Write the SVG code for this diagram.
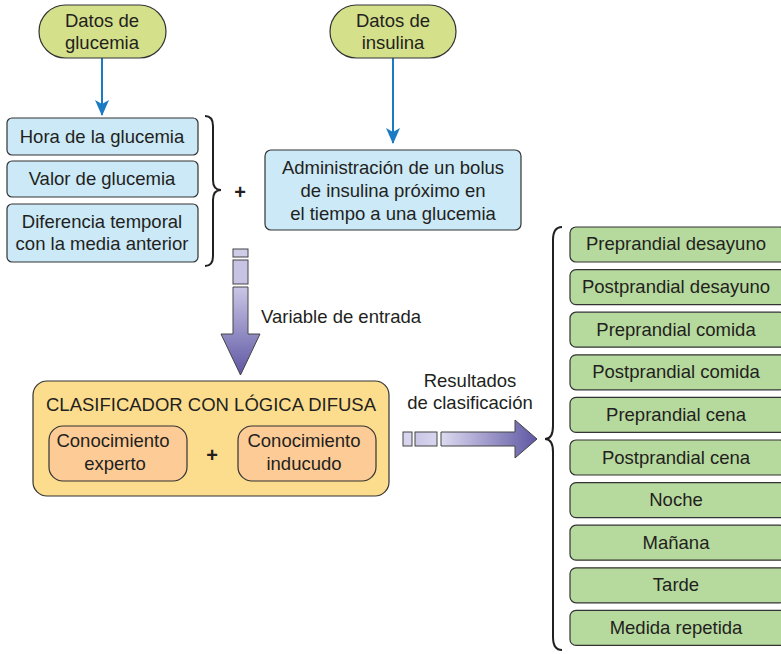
<svg xmlns="http://www.w3.org/2000/svg" width="781" height="654" viewBox="0 0 781 654">
<defs>
<style>
text{font-family:"Liberation Sans",Arial,sans-serif;font-size:18.5px;fill:#231f20;text-anchor:middle}
.pill{fill:#d5e08a;stroke:#333;stroke-width:1.2}
.blue{fill:#cbe9f7;stroke:#333;stroke-width:1.2}
.green{fill:#b6d99d;stroke:#333;stroke-width:1.2}
.peach{fill:#fdcb95;stroke:#333;stroke-width:1.2}
.brace{fill:none;stroke:#231f20;stroke-width:2}
.conn{stroke:#1b7bc2;stroke-width:2;fill:none}
.seg{stroke:#444;stroke-width:1}
.plus{font-weight:bold;font-size:20px}
</style>
<marker id="ah" markerWidth="16" markerHeight="14" refX="15" refY="7" orient="auto" markerUnits="userSpaceOnUse" viewBox="0 0 16 14">
<path d="M0,0 L16,7 L0,14 L4,7 Z" fill="#1b7bc2"/>
</marker>
<linearGradient id="gv" x1="0" y1="0" x2="0" y2="1"><stop offset="0" stop-color="#c9c6e6"/><stop offset="1" stop-color="#5f57a3"/></linearGradient>
<linearGradient id="gh" x1="0" y1="0" x2="1" y2="0"><stop offset="0" stop-color="#dcdaf0"/><stop offset="1" stop-color="#5f57a3"/></linearGradient>
<linearGradient id="gh2" x1="0" y1="0" x2="1" y2="0"><stop offset="0" stop-color="#c9c6e6"/><stop offset="1" stop-color="#d8d6ee"/></linearGradient>
</defs>

<g id="connectors">
<line class="conn" x1="102" y1="58" x2="102" y2="115" marker-end="url(#ah)"/>
<line class="conn" x1="393" y1="58" x2="393" y2="143" marker-end="url(#ah)"/>
<rect class="seg" x="233" y="249" width="15" height="8" fill="#cfcce8"/>
<rect class="seg" x="233" y="260" width="15" height="24" fill="#c6c3e4"/>
<path class="seg" d="M233,287 L248,287 L248,334 L260,334 L240.5,375 L221,334 L233,334 Z" fill="url(#gv)"/>
<text x="261" y="323" style="text-anchor:start">Variable de entrada</text>
<rect class="seg" x="403" y="432" width="9" height="14" fill="#d8d6ee"/>
<rect class="seg" x="415" y="432" width="22" height="14" fill="url(#gh2)"/>
<path class="seg" d="M441,432 L515,432 L515,420 L537,439 L515,458 L515,446 L441,446 Z" fill="url(#gh)"/>
<text x="470" y="387">Resultados</text>
<text x="470" y="409">de clasificación</text>
</g>

<g id="datos-glucemia">
<rect class="pill" x="39" y="5" width="127" height="53" rx="26.5"/>
<text x="102" y="27">Datos de</text>
<text x="102" y="49">glucemia</text>
</g>

<g id="datos-insulina">
<rect class="pill" x="330" y="5" width="126" height="53" rx="26.5"/>
<text x="393" y="27">Datos de</text>
<text x="393" y="49">insulina</text>
</g>

<g id="hora">
<rect class="blue" x="7" y="118" width="191" height="37" rx="5"/>
<text x="102" y="143">Hora de la glucemia</text>
</g>
<g id="valor">
<rect class="blue" x="7" y="161" width="191" height="36" rx="5"/>
<text x="102" y="185">Valor de glucemia</text>
</g>
<g id="diferencia">
<rect class="blue" x="7" y="204" width="191" height="58" rx="5"/>
<text x="102" y="228">Diferencia temporal</text>
<text x="102" y="250">con la media anterior</text>
</g>

<g id="brace-left">
<path class="brace" d="M205,116 Q213,116 213,126 L213,180 Q213,190 221,190 Q213,190 213,200 L213,256 Q213,266 205,266"/>
<text class="plus" x="240" y="199">+</text>
</g>

<g id="administracion">
<rect class="blue" x="265" y="150" width="256" height="80" rx="6"/>
<text x="393" y="174">Administración de un bolus</text>
<text x="393" y="197">de insulina próximo en</text>
<text x="393" y="220">el tiempo a una glucemia</text>
</g>

<g id="clasificador">
<rect x="33" y="381" width="356" height="115" rx="14" fill="#fcdd8e" stroke="#333" stroke-width="1.2"/>
<text x="211" y="411">CLASIFICADOR CON LÓGICA DIFUSA</text>
<g id="experto">
<rect class="peach" x="49" y="426" width="138" height="55" rx="14"/>
<text x="113" y="447">Conocimiento</text>
<text x="115" y="470">experto</text>
</g>
<text class="plus" x="212" y="462">+</text>
<g id="inducudo">
<rect class="peach" x="238" y="426" width="138" height="55" rx="14"/>
<text x="304" y="447">Conocimiento</text>
<text x="304" y="470">inducudo</text>
</g>
</g>

<g id="brace-right">
<path class="brace" d="M562,227 Q553,227 553,240 L553,426 Q553,439 545,439 Q553,439 553,452 L553,637 Q553,650 562,650"/>
</g>

<g id="r1"><rect class="green" x="570" y="227" width="216" height="35" rx="6"/><text x="676" y="250">Preprandial desayuno</text></g>
<g id="r2"><rect class="green" x="570" y="269.6" width="216" height="35" rx="6"/><text x="676" y="293">Postprandial desayuno</text></g>
<g id="r3"><rect class="green" x="570" y="312.2" width="216" height="35" rx="6"/><text x="676" y="336">Preprandial comida</text></g>
<g id="r4"><rect class="green" x="570" y="354.8" width="216" height="35" rx="6"/><text x="676" y="378">Postprandial comida</text></g>
<g id="r5"><rect class="green" x="570" y="397.4" width="216" height="35" rx="6"/><text x="676" y="421">Preprandial cena</text></g>
<g id="r6"><rect class="green" x="570" y="440" width="216" height="35" rx="6"/><text x="676" y="464">Postprandial cena</text></g>
<g id="r7"><rect class="green" x="570" y="482.6" width="216" height="35" rx="6"/><text x="676" y="506">Noche</text></g>
<g id="r8"><rect class="green" x="570" y="525.2" width="216" height="35" rx="6"/><text x="676" y="549">Mañana</text></g>
<g id="r9"><rect class="green" x="570" y="567.8" width="216" height="35" rx="6"/><text x="676" y="591">Tarde</text></g>
<g id="r10"><rect class="green" x="570" y="610.4" width="216" height="35" rx="6"/><text x="676" y="634">Medida repetida</text></g>
</svg>
